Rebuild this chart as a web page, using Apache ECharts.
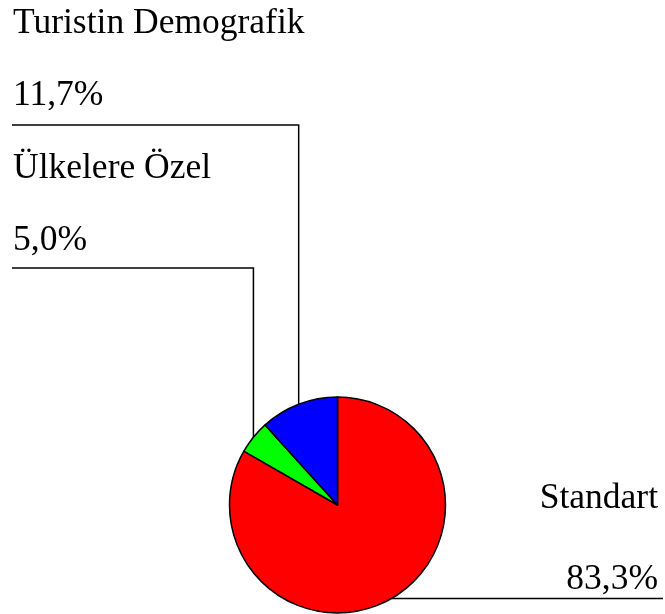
<!DOCTYPE html>
<html>
<head>
<meta charset="utf-8">
<script src="https://cdn.jsdelivr.net/npm/echarts@6/dist/echarts.min.js"></script>
<style>
    html, body { margin: 0; padding: 0; background: #fff; }
    #chart { width: 665px; height: 614px; }
</style>
</head>
<body>
<div id="chart"></div>
<script>
// dilimler, saat yönünde tepeden başlayarak
const names = ['Standart', 'Ülkelere Özel', 'Turistin Demografik']
const shares = [83.3, 5.0, 11.7]
const colors = ['#FF0000', '#00FF00', '#0000FF']

// etiket kutularının yeri: [x, y, hizalama, yatay çizginin y'si, çizginin bittiği x]
const labelSpots = [
    [658, 478, 'right', null, 663],
    [13, 151, 'left', 268, 12],
    [13, 6, 'left', 125, 12]
]

const chart = echarts.init(document.getElementById('chart'))

function formatShare(value) {
    return value.toFixed(1).replace('.', ',') + '%'
}

const option = {
    animation: false,
    backgroundColor: '#fff',
    series: [
        {
            type: 'pie',
            center: [337.5, 505],
            radius: 108,
            startAngle: 90,
            clockwise: true,
            avoidLabelOverlap: false,
            itemStyle: {
                borderColor: '#000',
                borderWidth: 1.5
            },
            label: {
                show: true,
                position: 'outside',
                fontFamily: 'Liberation Serif',
                fontSize: 35.5,
                color: '#000',
                lineHeight: 36,
                formatter: p => p.name + '\n\n' + formatShare(p.value)
            },
            labelLine: {
                show: true,
                smooth: false,
                lineStyle: {
                    color: '#000',
                    width: 1.5
                }
            },
            emphasis: { disabled: true },
            labelLayout: params => {
                const spot = labelSpots[params.dataIndex]
                const start = params.labelLinePoints[0]
                let points
                if (spot[3] === null) {
                    points = [start, [spot[4], start[1]]]
                } else {
                    points = [start, [start[0], spot[3]], [spot[4], spot[3]]]
                }
                return {
                    x: spot[0],
                    y: spot[1],
                    align: spot[2],
                    verticalAlign: 'top',
                    labelLinePoints: points
                }
            },
            data: names.map((name, i) => {
                const item = {
                    name: name,
                    value: shares[i],
                    itemStyle: { color: colors[i] }
                }
                if (i === 0) {
                    item.label = { lineHeight: 40.5 }
                }
                return item
            })
        }
    ]
}

chart.setOption(option)
</script>
</body>
</html>
